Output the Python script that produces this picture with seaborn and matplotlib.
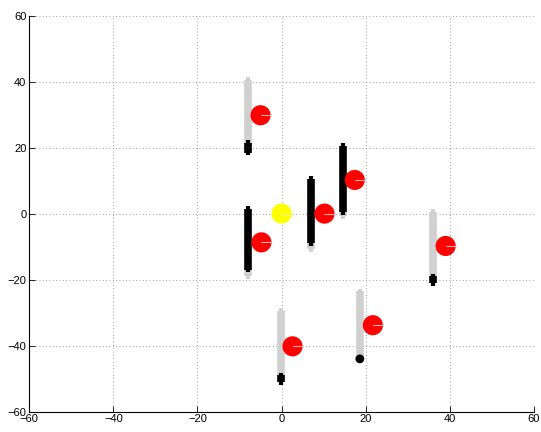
import matplotlib
matplotlib.use("Agg")
import matplotlib.pyplot as plt
import numpy as np
import pandas as pd
import seaborn as sns

sns.set_style("white")
plt.rcParams["font.family"] = ["Liberation Sans", "DejaVu Sans"]

# Agent trails: x position, gray segment (top, bottom), black segment (top, bottom)
trail_x = [-8.1, -8.1, 7.1, 14.5, 36.0, -0.2, 18.6]
gray_top = [40.5, -17.0, -9.0, 1.0, 0.5, -29.5, -23.5]
gray_bot = [20.0, -19.0, -10.8, -0.8, -19.0, -49.0, -43.0]
black_top = [21.5, 1.5, 10.5, 20.5, -19.0, -49.0, None]
black_bot = [18.5, -17.0, -9.0, 0.5, -21.0, -51.0, None]

# Point markers at trail ends
dot_x = [18.6]
dot_y = [-44.0]

# Agents (red) and target (yellow)
agent_x = [-5.0, -4.8, 10.2, 17.4, 39.0, 2.6, 21.7]
agent_y = [29.8, -8.7, 0.0, 10.2, -9.8, -40.2, -33.8]
target_x = [0.0]
target_y = [0.0]

ticks = [-60, -40, -20, 0, 20, 40, 60]

fig = plt.figure(figsize=(5.41, 4.32), dpi=100)
ax = fig.add_axes([0.054, 0.047, 0.933, 0.917])

def bar(x, top, bot, color):
    ax.plot([x, x], [top, bot], color=color, lw=5.5, solid_capstyle="butt", zorder=3)
    ax.plot([x, x], [top + 0.8, bot - 0.8], color=color, lw=3, solid_capstyle="butt", zorder=3)

for x, gt, gb in zip(trail_x, gray_top, gray_bot):
    bar(x, gt, gb, "#d0d0d0")
for x, bt, bb in zip(trail_x, black_top, black_bot):
    if bt is not None:
        bar(x, bt, bb, "black")

sns.scatterplot(x=dot_x, y=dot_y, color="black", s=40, edgecolor="none", ax=ax, zorder=4)

agents = pd.DataFrame({"x": agent_x, "y": agent_y})
sns.scatterplot(data=agents, x="x", y="y", color="#ff0000", s=210, edgecolor="none",
                ax=ax, zorder=5, legend=False)
# heading indicator of each agent
for x, y in zip(agent_x, agent_y):
    ax.plot([x, x + 2.4], [y, y], color="#ffb0b0", lw=0.8, zorder=6)

sns.scatterplot(x=target_x, y=target_y, color="#ffff00", s=210, edgecolor="none",
                ax=ax, zorder=5)
ax.plot([0, 2.4], [0, 0], color="#ffff90", lw=0.8, zorder=6)

ax.set_xlim(-60, 60)
ax.set_ylim(-60, 60)
ax.set_xticks(ticks)
ax.set_yticks(ticks)
ax.set_xlabel("")
ax.set_ylabel("")
ax.grid(True, linestyle=(0, (1, 3)), color="#808080", lw=0.6)
ax.set_axisbelow(True)
for s in ["top", "right"]:
    ax.spines[s].set_visible(False)
for s in ["left", "bottom"]:
    ax.spines[s].set_color("black")
    ax.spines[s].set_linewidth(0.8)
ax.tick_params(direction="in", length=4, width=0.6, labelsize=8, colors="black", pad=2,
               left=True, bottom=True)
ax.set_xticklabels([f"{t}".replace("-", "\u2212") for t in ticks])
ax.set_yticklabels([f"{t}".replace("-", "\u2212") for t in ticks])

fig.savefig("out.png", dpi=100)
